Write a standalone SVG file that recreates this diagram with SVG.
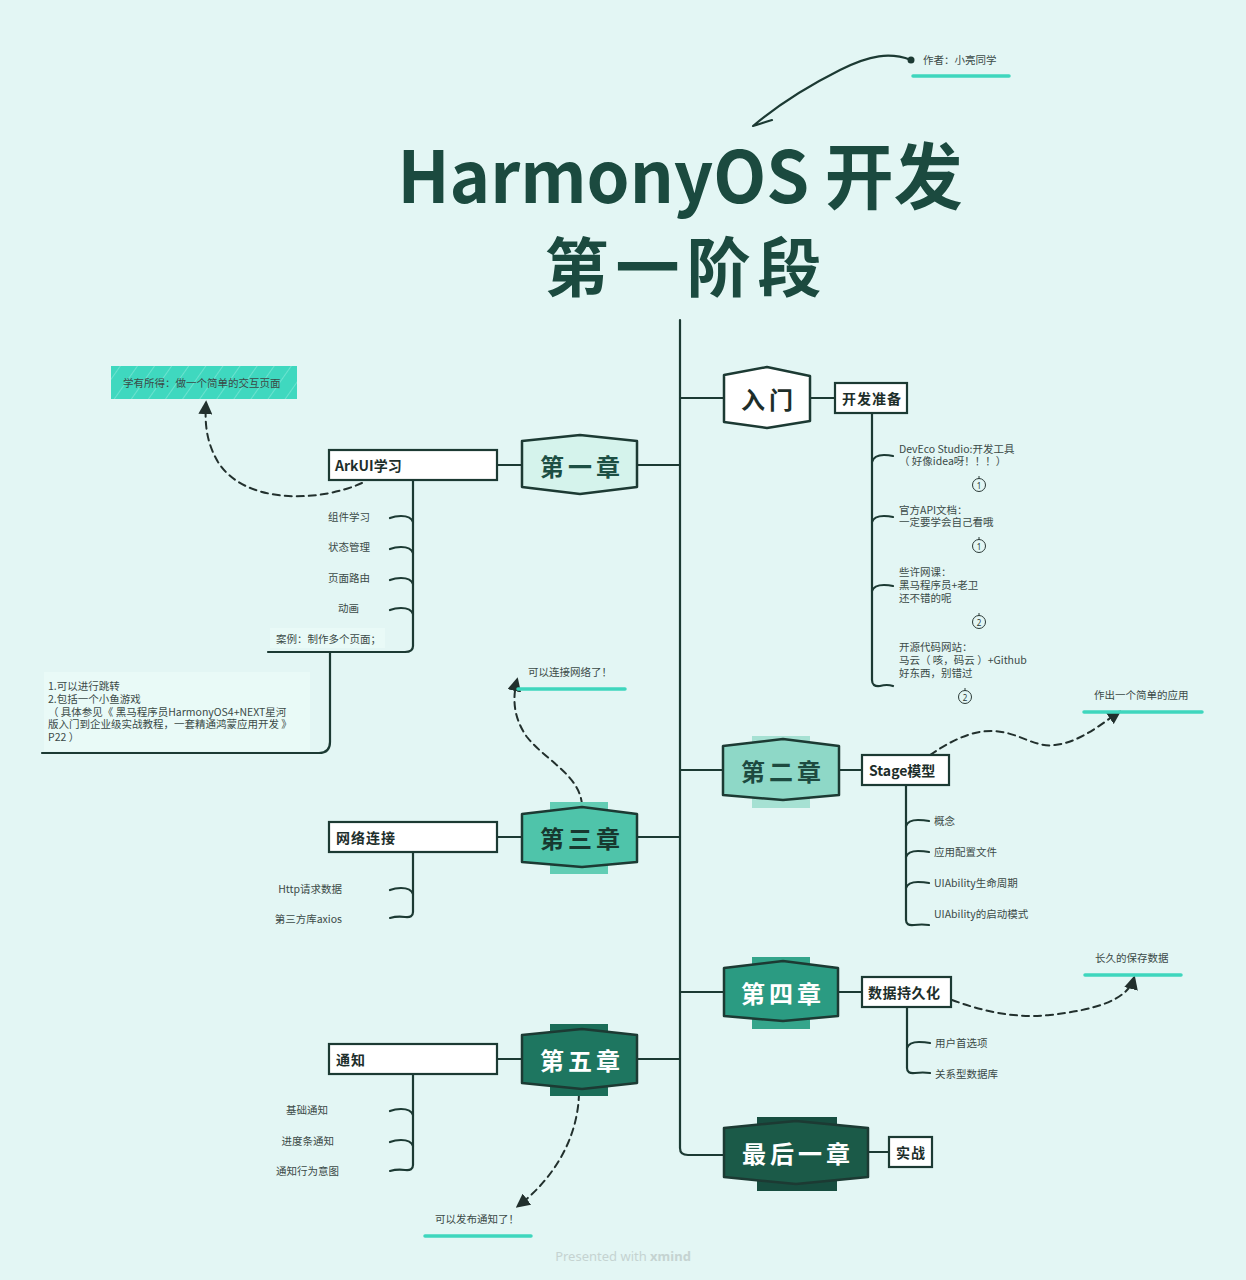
<svg xmlns="http://www.w3.org/2000/svg" width="1246" height="1280" viewBox="0 0 1246 1280">
<defs>
<style>
.bg{fill:#e3f6f4}
.ln{fill:none;stroke:#1c3a33;stroke-width:2.2;stroke-linecap:round;stroke-linejoin:round}
.tk{fill:none;stroke:#1c3a33;stroke-width:2.2;stroke-linecap:round}
.dash{fill:none;stroke:#22302d;stroke-width:2;stroke-dasharray:7 5;stroke-linecap:round}
.ul{stroke:#3fd6bd;stroke-width:3.5;stroke-linecap:round}
.hex{stroke:#1c3a33;stroke-width:2.5;stroke-linejoin:round}
.box{fill:#ffffff;stroke:#1c3a33;stroke-width:2.2}
.ch{font-family:"Noto Sans CJK SC","Noto Sans",sans-serif;font-weight:700;font-size:24px;letter-spacing:4px;text-anchor:middle;dominant-baseline:central}
.sub{font-family:"Noto Sans CJK SC","Noto Sans",sans-serif;font-weight:700;font-size:14px;fill:#1d2e2a;dominant-baseline:central}
.sm{font-family:"Noto Sans CJK SC","Noto Sans",sans-serif;font-size:10.5px;fill:#3b4a47}
.smr{font-family:"Noto Sans CJK SC","Noto Sans",sans-serif;font-size:10.5px;fill:#3b4a47;text-anchor:end;dominant-baseline:central}
.sml{font-family:"Noto Sans CJK SC","Noto Sans",sans-serif;font-size:10.5px;fill:#3b4a47;dominant-baseline:central}
.num{font-family:"Noto Sans","DejaVu Sans",sans-serif;font-size:8px;fill:#2b3a37;text-anchor:middle;dominant-baseline:central}
.nc{fill:none;stroke:#2b3a37;stroke-width:1}
.title{font-family:"Noto Sans CJK SC","Noto Sans",sans-serif;font-weight:700;fill:#1b4a3f;text-anchor:middle}
</style>
<marker id="arr" viewBox="0 0 10 10" refX="8" refY="5" markerWidth="7" markerHeight="7" orient="auto-start-reverse">
<path d="M0,0 L10,5 L0,10 Z" fill="#22302d"/>
</marker>
<pattern id="hatch" width="14" height="14" patternUnits="userSpaceOnUse" patternTransform="rotate(35)">
<rect width="14" height="14" fill="#3fd8bf"/>
<line x1="0" y1="0" x2="0" y2="14" stroke="#8aeadb" stroke-width="1.2"/>
</pattern>
</defs>
<rect class="bg" x="0" y="0" width="1246" height="1280"/>

<!-- title -->
<g id="title">
<text class="title" x="680" y="203" font-size="72"><tspan x="680" y="203" textLength="565" lengthAdjust="spacingAndGlyphs">HarmonyOS 开发</tspan><tspan x="683" y="291" font-size="64" textLength="277" lengthAdjust="spacing">第一阶段</tspan></text>
</g>

<!-- author -->
<g id="author">
<path class="ln" d="M911,60 C890,52 870,55 840,70 C800,90 772,110 753,126 C760,124 765,122 772,120" stroke-width="1.8"/>
<circle cx="911" cy="60" r="3.5" fill="#1c3a33"/>
<text class="sml" x="923" y="59">作者：小亮同学</text>
<line class="ul" x1="913" y1="76" x2="1009" y2="76"/>
</g>

<!-- connectors -->
<g id="connectors">
<path class="ln" d="M680,320 L680,1148 Q680,1155 688,1155 L724,1155"/>
<line class="ln" x1="680" y1="398" x2="724" y2="398"/>
<line class="ln" x1="637" y1="465" x2="680" y2="465"/>
<line class="ln" x1="680" y1="770" x2="723" y2="770"/>
<line class="ln" x1="637" y1="837" x2="680" y2="837"/>
<line class="ln" x1="680" y1="992" x2="724" y2="992"/>
<line class="ln" x1="637" y1="1059" x2="680" y2="1059"/>
<line class="ln" x1="810" y1="398" x2="835" y2="398"/>
<line class="ln" x1="497" y1="465" x2="522" y2="465"/>
<line class="ln" x1="839" y1="770" x2="862" y2="770"/>
<line class="ln" x1="497" y1="837" x2="522" y2="837"/>
<line class="ln" x1="838" y1="992" x2="862" y2="992"/>
<line class="ln" x1="497" y1="1059" x2="522" y2="1059"/>
<line class="ln" x1="868" y1="1152" x2="889" y2="1152"/>

<path class="ln" d="M872,413 L872,680 Q872,687 880,686 Q887,684 893,686"/>
<path class="tk" d="M872,462 Q874,455 884,455 Q889,455 893,456"/>
<path class="tk" d="M872,522 Q874,516 884,516 Q889,516 893,517"/>
<path class="tk" d="M872,591 Q874,585 884,585 Q889,585 893,586"/>

<path class="ln" d="M413,480 L413,646 Q413,652 405,652 L268,652"/>
<path class="tk" d="M413,522 Q411,516 401,516 Q395,516 390,518"/>
<path class="tk" d="M413,553 Q411,547 401,547 Q395,547 390,549"/>
<path class="tk" d="M413,584 Q411,578 401,578 Q395,578 390,580"/>
<path class="tk" d="M413,614 Q411,608 401,608 Q395,608 390,610"/>
<path class="ln" d="M330,652 L330,742 Q330,753 319,753 L42,753"/>

<path class="ln" d="M906,785 L906,920 Q906,926 914,925 Q922,924 929,925"/>
<path class="tk" d="M906,826 Q908,820 918,820 Q924,820 929,821"/>
<path class="tk" d="M906,857 Q908,851 918,851 Q924,851 929,852"/>
<path class="tk" d="M906,888 Q908,882 918,882 Q924,882 929,883"/>

<path class="ln" d="M413,852 L413,912 Q413,918 405,917 Q397,916 390,918"/>
<path class="tk" d="M413,894 Q411,888 401,888 Q395,888 390,890"/>

<path class="ln" d="M907,1007 L907,1068 Q907,1074 915,1073 Q923,1072 930,1073"/>
<path class="tk" d="M907,1048 Q909,1042 919,1042 Q925,1042 930,1043"/>

<path class="ln" d="M413,1074 L413,1165 Q413,1171 405,1170 Q397,1169 390,1171"/>
<path class="tk" d="M413,1115 Q411,1109 401,1109 Q395,1109 390,1111"/>
<path class="tk" d="M413,1146 Q411,1140 401,1140 Q395,1140 390,1142"/>

<path class="dash" d="M362,483 C320,502 245,505 218,462 C205,440 205,420 206,403" marker-end="url(#arr)"/>
<path class="dash" d="M582,805 C580,775 545,760 527,737 C512,716 513,696 517,680" marker-end="url(#arr)"/>
<path class="dash" d="M579,1093 C578,1140 552,1180 518,1206" marker-end="url(#arr)"/>
<path class="dash" d="M930,755 C955,738 975,730 995,731 C1020,733 1035,748 1055,745 C1080,742 1100,725 1119,712" marker-end="url(#arr)"/>
<path class="dash" d="M952,1000 C990,1014 1020,1018 1050,1015 C1095,1010 1128,1000 1134,978" marker-end="url(#arr)"/>
</g>

<!-- chapter nodes -->
<g id="n-rumen">
<path class="hex" fill="#ffffff" d="M724,375 L767,367 L810,376 L810,421 L767,428 L724,422 Z"/>
<text class="ch" x="769" y="398" fill="#1d2e2a">入门</text>
</g>
<g id="n-ch1">
<path class="hex" fill="#d5f3ec" d="M522,441 L580,435 L637,441 L637,487 L580,494 L522,487 Z"/>
<text class="ch" x="582" y="465" fill="#1d4f44">第一章</text>
</g>
<g id="n-ch2">
<rect x="752" y="736" width="58" height="72" fill="#a6e1d3"/>
<path class="hex" fill="#8ed8c7" d="M723,746 L783,739 L839,746 L839,795 L783,800 L723,795 Z"/>
<text class="ch" x="783" y="770" fill="#1d4a40">第二章</text>
</g>
<g id="n-ch3">
<rect x="550" y="802" width="58" height="72" fill="#62cdb4"/>
<path class="hex" fill="#4fc4aa" d="M522,814 L582,807 L637,814 L637,862 L582,867 L522,862 Z"/>
<text class="ch" x="582" y="837" fill="#17382f">第三章</text>
</g>
<g id="n-ch4">
<rect x="752" y="957" width="58" height="72" fill="#34a58b"/>
<path class="hex" fill="#2b9b82" d="M724,968 L783,961 L838,968 L838,1016 L783,1021 L724,1016 Z"/>
<text class="ch" x="783" y="992" fill="#ffffff">第四章</text>
</g>
<g id="n-ch5">
<rect x="550" y="1024" width="58" height="72" fill="#1b6d58"/>
<path class="hex" fill="#1e7660" d="M522,1035 L582,1029 L637,1035 L637,1083 L582,1089 L522,1083 Z"/>
<text class="ch" x="582" y="1059" fill="#ffffff">第五章</text>
</g>
<g id="n-last">
<rect x="757" y="1117" width="80" height="74" fill="#174e40"/>
<path class="hex" fill="#1b5a48" d="M724,1128 L796,1121 L868,1128 L868,1177 L796,1184 L724,1177 Z"/>
<text class="ch" x="798" y="1152" fill="#ffffff">最后一章</text>
</g>

<!-- sub nodes -->
<g id="s-kaifa">
<rect class="box" x="835" y="383" width="72" height="30"/>
<text class="sub" x="842" y="398" letter-spacing="1">开发准备</text>
</g>
<g id="s-arkui">
<rect class="box" x="329" y="450" width="168" height="30"/>
<text class="sub" x="335" y="465">ArkUI学习</text>
</g>
<g id="s-stage">
<rect class="box" x="862" y="755" width="87" height="30"/>
<text class="sub" x="869" y="770">Stage模型</text>
</g>
<g id="s-net">
<rect class="box" x="329" y="822" width="168" height="30"/>
<text class="sub" x="336" y="837" letter-spacing="1">网络连接</text>
</g>
<g id="s-data">
<rect class="box" x="862" y="977" width="89" height="30"/>
<text class="sub" x="868" y="992" letter-spacing="0.5">数据持久化</text>
</g>
<g id="s-notify">
<rect class="box" x="329" y="1044" width="168" height="30"/>
<text class="sub" x="336" y="1059" letter-spacing="1">通知</text>
</g>
<g id="s-shizhan">
<rect class="box" x="889" y="1137" width="43" height="30"/>
<text class="sub" x="896" y="1152" letter-spacing="1">实战</text>
</g>

<!-- 开发准备 leaves -->
<g id="l-kaifa">
<text class="sm" x="899" y="452.5">DevEco Studio:开发工具<tspan x="899" dy="12.8">（ 好像idea呀！！！）</tspan></text>
<text class="sm" x="899" y="513.5">官方API文档：<tspan x="899" dy="12.8">一定要学会自己看哦</tspan></text>
<text class="sm" x="899" y="576">些许网课：<tspan x="899" dy="12.8">黑马程序员+老卫</tspan><tspan x="899" dy="12.8">还不错的呢</tspan></text>
<text class="sm" x="899" y="651">开源代码网站：<tspan x="899" dy="13">马云（ 咳，码云 ）+Github</tspan><tspan x="899" dy="13">好东西，别错过</tspan></text>
<circle class="nc" cx="979" cy="485" r="6.5"/><line class="nc" x1="979" y1="476" x2="979" y2="479"/><text class="num" x="979" y="485">1</text>
<circle class="nc" cx="979" cy="546" r="6.5"/><line class="nc" x1="979" y1="537" x2="979" y2="540"/><text class="num" x="979" y="546">1</text>
<circle class="nc" cx="979" cy="622" r="6.5"/><line class="nc" x1="979" y1="613" x2="979" y2="616"/><text class="num" x="979" y="622">2</text>
<circle class="nc" cx="965" cy="697" r="6.5"/><line class="nc" x1="965" y1="688" x2="965" y2="691"/><text class="num" x="965" y="697">2</text>
</g>

<!-- ArkUI leaves -->
<g id="l-arkui">
<text class="smr" x="370" y="516">组件学习</text>
<text class="smr" x="370" y="546">状态管理</text>
<text class="smr" x="370" y="577">页面路由</text>
<text class="smr" x="359" y="607">动画</text>
<rect x="270" y="628" width="115" height="20" fill="#e9faf7"/>
<text class="sml" x="276" y="638">案例：制作多个页面；</text>
<rect x="44" y="672" width="266" height="79" fill="#e9faf7"/>
<text class="sm" x="48" y="690">1.可以进行跳转<tspan x="48" dy="12.8">2.包括一个小鱼游戏</tspan><tspan x="48" dy="12.8">（ 具体参见《 黑马程序员HarmonyOS4+NEXT星河</tspan><tspan x="48" dy="12.8">版入门到企业级实战教程，一套精通鸿蒙应用开发 》</tspan><tspan x="48" dy="12.8">P22 ）</tspan></text>
</g>

<g id="h-xueyou">
<rect x="111" y="366" width="186" height="33" fill="url(#hatch)"/>
<text class="sml" x="123" y="382" font-size="10">学有所得：做一个简单的交互页面</text>
</g>

<g id="l-stage">
<text class="sml" x="934" y="820">概念</text>
<text class="sml" x="934" y="851">应用配置文件</text>
<text class="sml" x="934" y="882">UIAbility生命周期</text>
<text class="sml" x="934" y="913">UIAbility的启动模式</text>
</g>
<g id="h-zuochu">
<text class="sml" x="1094" y="694">作出一个简单的应用</text>
<line class="ul" x1="1084" y1="712" x2="1202" y2="712"/>
</g>

<g id="l-net">
<text class="smr" x="342" y="888">Http请求数据</text>
<text class="smr" x="342" y="918">第三方库axios</text>
</g>
<g id="h-net">
<text class="sml" x="528" y="671">可以连接网络了！</text>
<line class="ul" x1="518" y1="689" x2="625" y2="689"/>
</g>

<g id="l-data">
<text class="sml" x="935" y="1042">用户首选项</text>
<text class="sml" x="935" y="1073">关系型数据库</text>
</g>
<g id="h-data">
<text class="sml" x="1095" y="957">长久的保存数据</text>
<line class="ul" x1="1085" y1="975" x2="1181" y2="975"/>
</g>

<g id="l-notify">
<text class="smr" x="328" y="1109">基础通知</text>
<text class="smr" x="334" y="1140">进度条通知</text>
<text class="smr" x="339" y="1170">通知行为意图</text>
</g>
<g id="h-notify">
<text class="sml" x="435" y="1218">可以发布通知了！</text>
<line class="ul" x1="425" y1="1236" x2="531" y2="1236"/>
</g>

<g id="watermark">
<text x="623" y="1261" text-anchor="middle" font-family="'Noto Sans',sans-serif" font-size="13" fill="#c5d3d1">Presented with <tspan font-weight="700">xmind</tspan></text>
</g>
</svg>
